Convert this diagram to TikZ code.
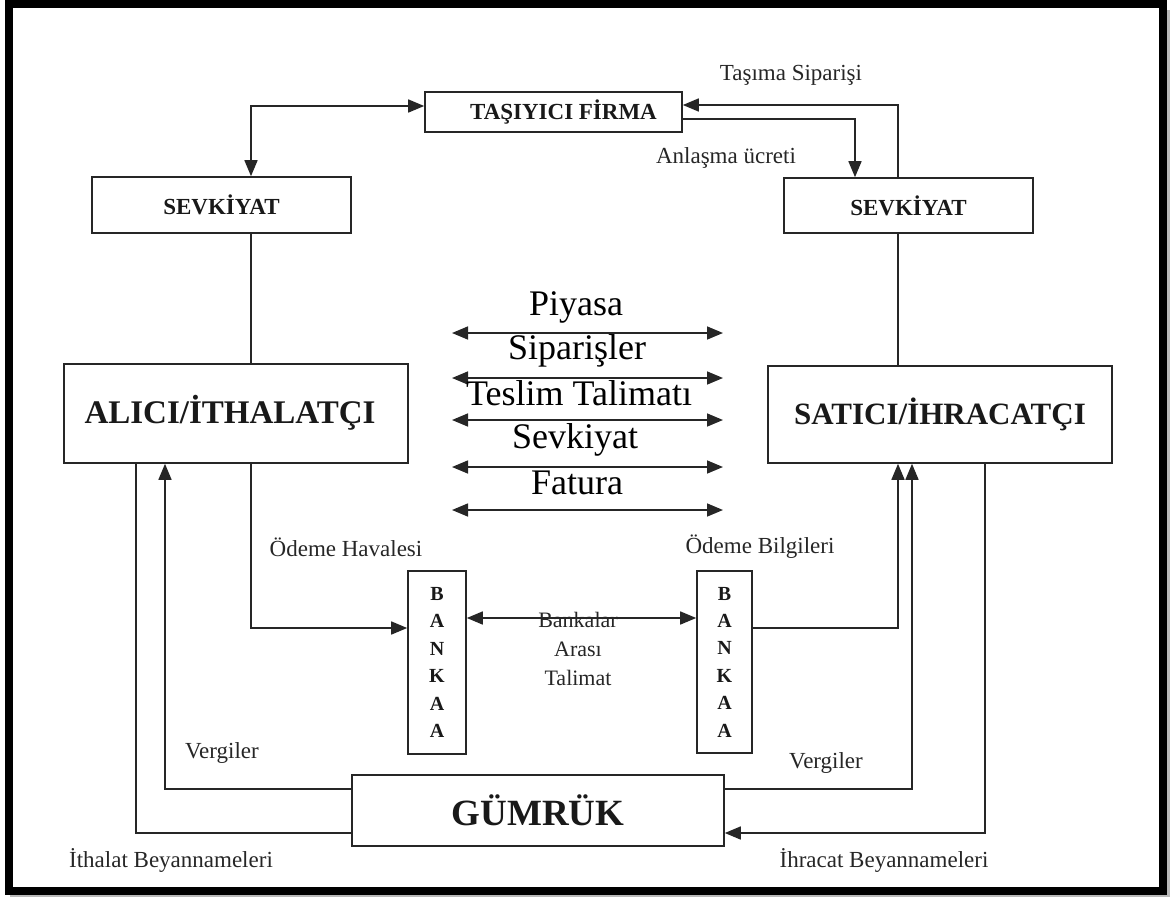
\documentclass[tikz,border=0pt]{standalone}
\usepackage{fontspec}
\setmainfont{Liberation Serif}
\usetikzlibrary{arrows.meta}
\begin{document}
\begin{tikzpicture}[x=1pt,y=-1pt,
  >={Triangle[length=16pt,width=13pt]},
  box/.style={draw=black!85, line width=1.6pt, inner sep=0pt, fill=white, text=black!90},
  conn/.style={draw=black!85, line width=1.6pt},
  lbl/.style={inner sep=0pt, text=black!85, font=\fontsize{23}{27}\selectfont},
  mid/.style={inner sep=0pt, text=black, font=\fontsize{36}{40}\selectfont},
  smallbold/.style={font=\fontsize{23}{27}\selectfont\bfseries},
]
\useasboundingbox (0,0) rectangle (1170,897);
% frame with shadow
\fill[gray!55] (1166,10) rectangle (1170,897);
\fill[gray!55] (10,894) rectangle (1170,897);
\draw[line width=8pt, black] (9,3.5) rectangle (1162.5,891);

% boxes
\node[box, smallbold, minimum width=257pt, minimum height=40pt] (tas) at (553.5,112) {\hspace*{20pt}TAŞIYICI FİRMA};
\node[box, smallbold, minimum width=259pt, minimum height=56pt] (sevL) at (221.5,205) {SEVKİYAT};
\node[box, smallbold, minimum width=249pt, minimum height=55pt] (sevR) at (908.5,205.5) {SEVKİYAT};
\node[box, font=\fontsize{33}{37}\selectfont\bfseries, minimum width=344pt, minimum height=99pt] (alici) at (236,413.5) {\raisebox{8pt}{ALICI/İTHALATÇI}\hspace*{12pt}};
\node[box, font=\fontsize{31}{35}\selectfont\bfseries, minimum width=344pt, minimum height=97pt] (satici) at (940,414.5) {\raisebox{-6pt}{SATICI/İHRACATÇI}};
\node[box, font=\fontsize{37}{41}\selectfont\bfseries, minimum width=372pt, minimum height=71pt] (gumruk) at (538,810.5) {GÜMRÜK};
\node[box, align=center, font=\fontsize{20}{27.4}\selectfont\bfseries, minimum width=58pt, minimum height=183pt] (bankL) at (437,662.5) {B\\A\\N\\K\\A\\A};
\node[box, align=center, font=\fontsize{20}{27.4}\selectfont\bfseries, minimum width=55pt, minimum height=182pt] (bankR) at (724.5,662) {B\\A\\N\\K\\A\\A};

% top connectors
\draw[conn,<->] ([xshift=29.5pt]sevL.north) |- ([yshift=6pt]tas.west);
\draw[conn,->] ([xshift=-10.5pt]sevR.north) |- ([yshift=7pt]tas.east);
\draw[conn,->] ([yshift=-7pt]tas.east) -| ([xshift=-53.5pt]sevR.north);
\draw[conn] ([xshift=29.5pt]sevL.south) -- ([xshift=29.5pt]sevL.south |- alici.north);
\draw[conn] ([xshift=-10.5pt]sevR.south) -- ([xshift=-10.5pt]sevR.south |- satici.north);

% payment connectors
\draw[conn,->] ([xshift=15pt]alici.south) |- ([yshift=34.5pt]bankL.west);
\draw[conn,<->] ([yshift=44.5pt]bankL.east) -- ([yshift=44.5pt]bankL.east -| bankR.west);
\draw[conn,->] ([yshift=34pt]bankR.east) -| ([xshift=-42pt]satici.south);

% customs connectors
\draw[conn,->] ([yshift=21.5pt]gumruk.east) -| ([xshift=-28pt]satici.south);
\draw[conn,->] ([xshift=45pt]satici.south) |- ([yshift=-22.5pt]gumruk.east);
\draw[conn,->] ([yshift=21.5pt]gumruk.west) -| ([xshift=-71pt]alici.south);
\draw[conn] ([xshift=-100pt]alici.south) |- ([yshift=-22.5pt]gumruk.west);

% central flows
\foreach \n/\y in {1/333,2/378,3/420,4/467,5/510}{
  \coordinate (fl\n) at (452,\y);
  \coordinate (fr\n) at (723,\y);
  \draw[conn,<->] (fl\n) -- (fr\n);
}
\node[mid] (tPiy) at (576,307) {Piyasa};
\node[mid] (tSip) at (577,351) {Siparişler};
\node[mid] (tTes) at (579,393) {Teslim Talimatı};
\node[mid] (tSev) at (575,440) {Sevkiyat};
\node[mid] (tFat) at (577,483) {Fatura};

% labels
\node[lbl] (lTas) at (791,75) {Taşıma Siparişi};
\node[lbl] (lAnl) at (726,158) {Anlaşma ücreti};
\node[lbl] (lOdH) at (346,547) {Ödeme Havalesi};
\node[lbl] (lOdB) at (760,547) {Ödeme Bilgileri};
\node[lbl, align=center, font=\fontsize{22}{29}\selectfont] (lBnk) at (578,649) {Bankalar\\Arası\\Talimat};
\node[lbl] (lVerL) at (222,753) {Vergiler};
\node[lbl] (lVerR) at (826,763) {Vergiler};
\node[lbl] (lIth) at (171,860) {İthalat Beyannameleri};
\node[lbl] (lIhr) at (884,860) {İhracat Beyannameleri};
\end{tikzpicture}
\end{document}
